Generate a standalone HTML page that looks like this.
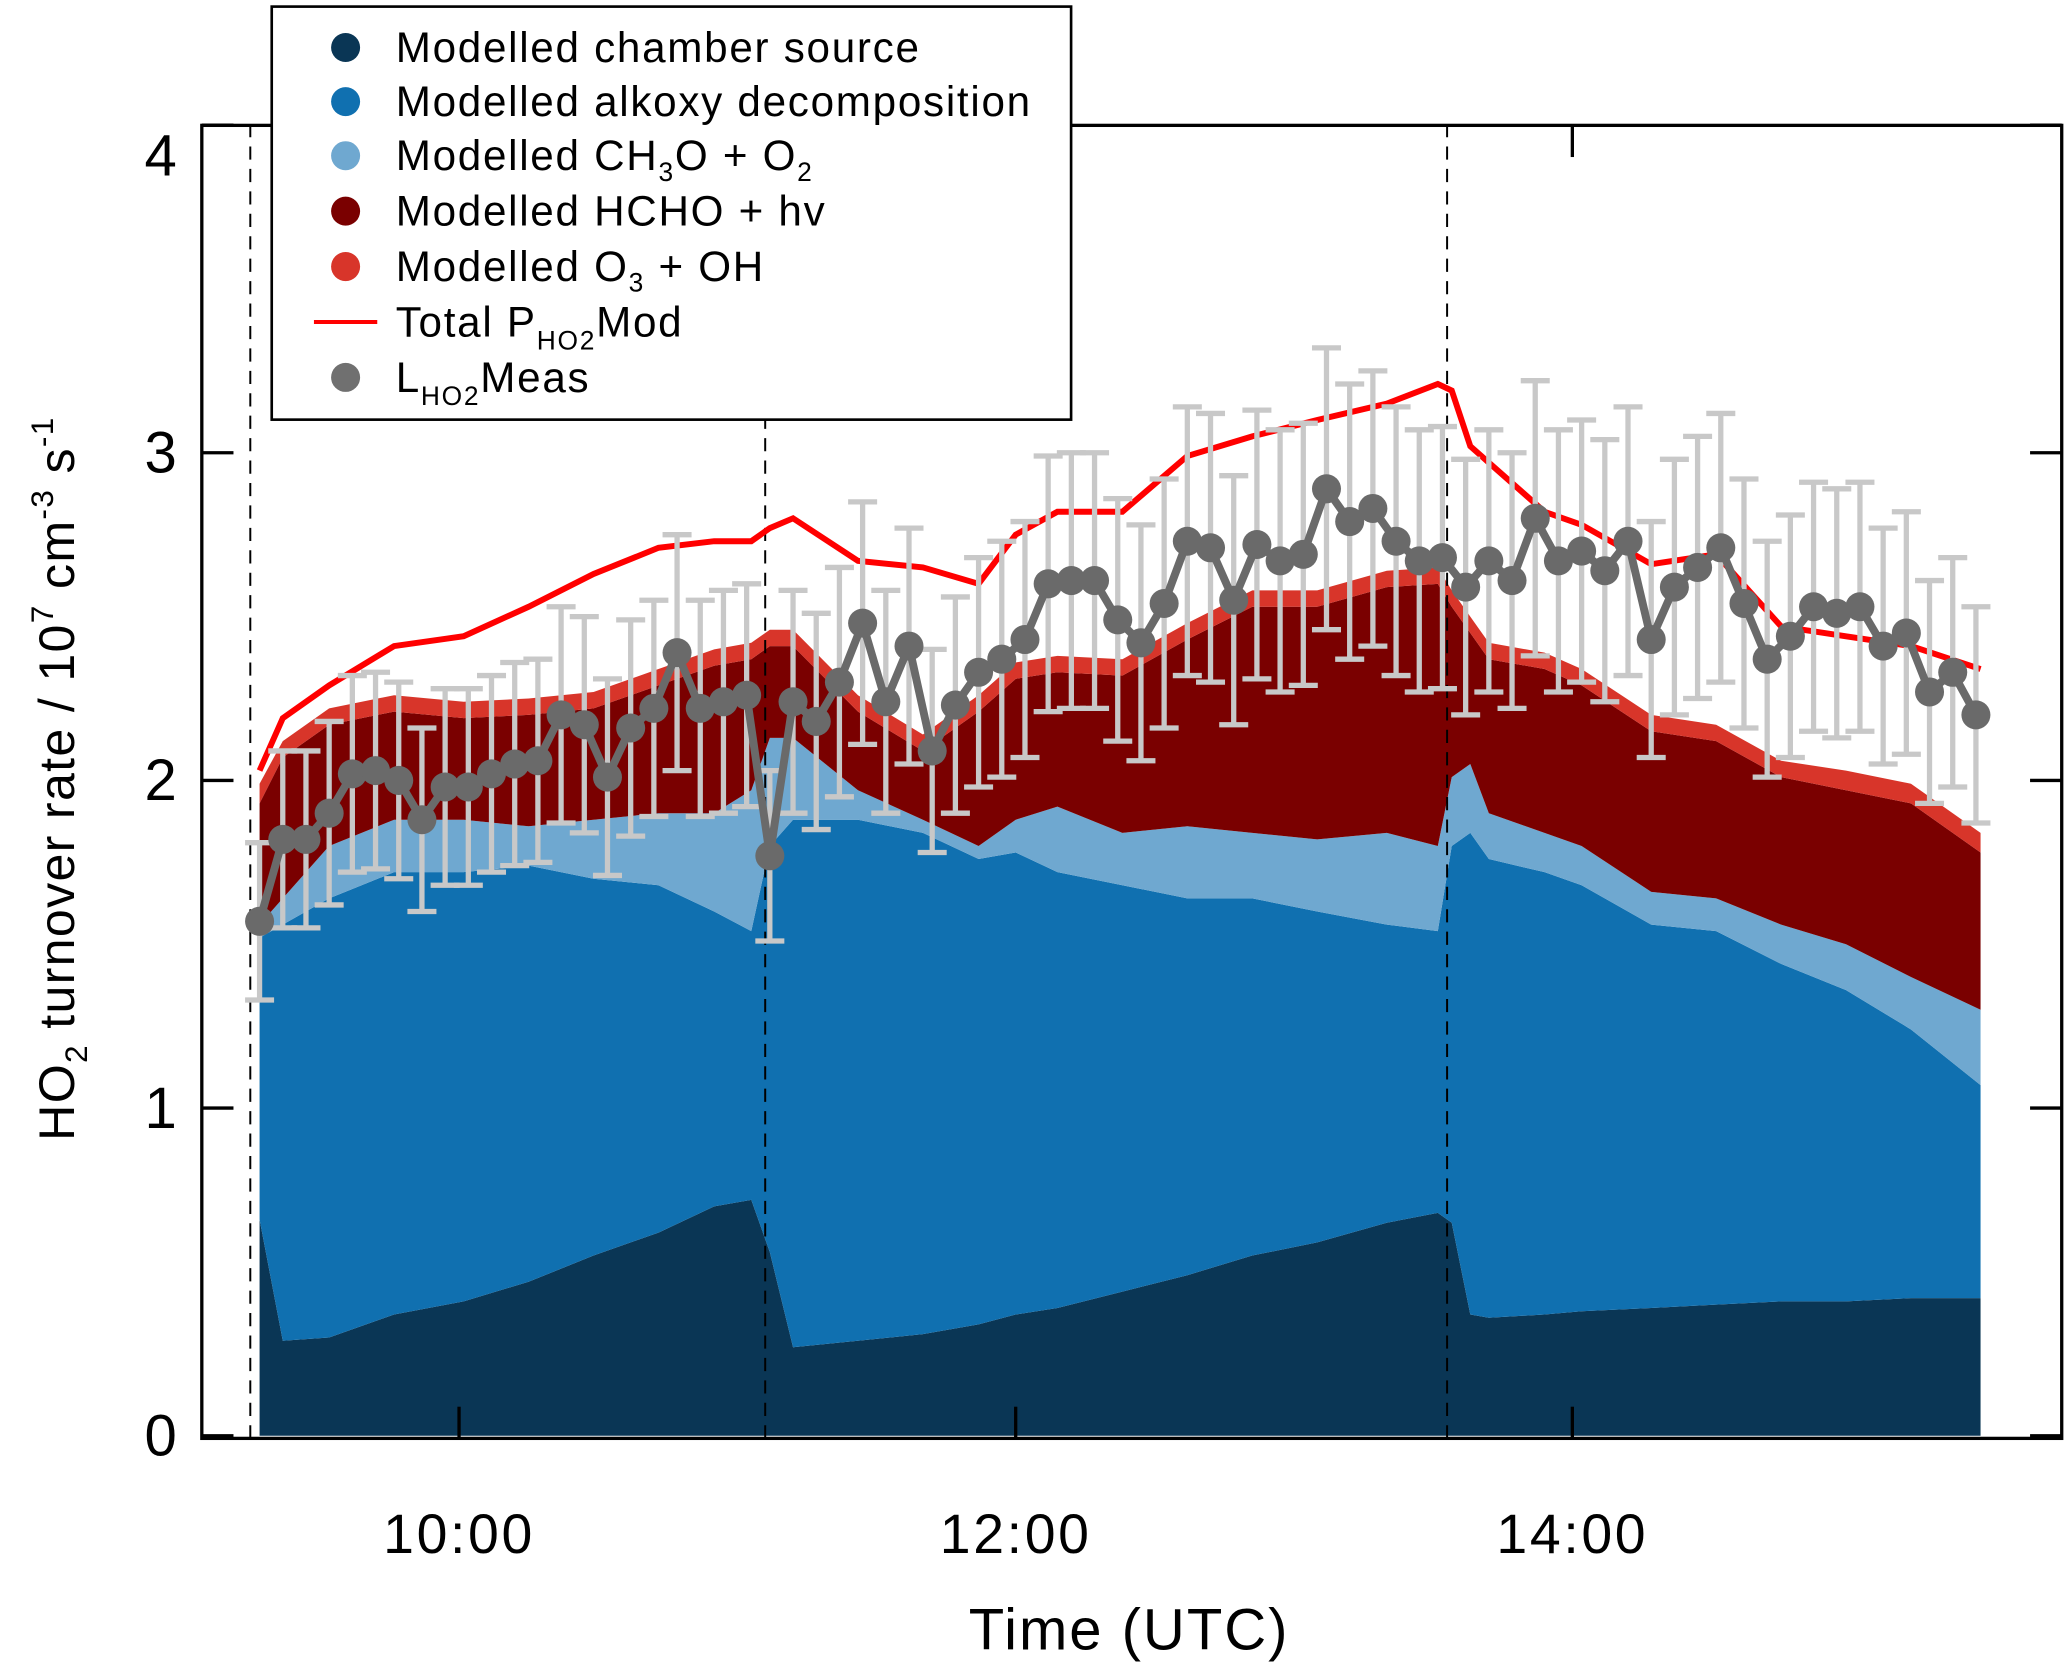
<!DOCTYPE html>
<html><head><meta charset="utf-8"><style>
html,body{margin:0;padding:0;background:#fff;}
svg{display:block;font-family:"Liberation Sans",sans-serif;}
</style></head><body>
<svg id="chart" width="2067" height="1668" viewBox="0 0 1567 1264" preserveAspectRatio="none" xmlns="http://www.w3.org/2000/svg">
<rect width="1567" height="1264" fill="#fff"/>
<g id="plot"></g>
<g id="axes"></g>
<g id="legend" font-size="32" letter-spacing="1.3">
 <rect x="206" y="5" width="606" height="313" fill="#fff" stroke="#000" stroke-width="2"/>
 <g><circle cx="262" cy="36" r="11" fill="#0a3655"/><text x="300" y="47">Modelled chamber source</text></g>
 <g><circle cx="262" cy="77" r="11" fill="#1070b0"/><text x="300" y="88">Modelled alkoxy decomposition</text></g>
 <g><circle cx="262" cy="118" r="11" fill="#6fa8d0"/><text x="300" y="129">Modelled CH<tspan font-size="20" dy="8">3</tspan><tspan dy="-8">O + O</tspan><tspan font-size="20" dy="8">2</tspan></text></g>
 <g><circle cx="262" cy="160" r="11" fill="#7a0000"/><text x="300" y="171">Modelled HCHO + hv</text></g>
 <g><circle cx="262" cy="202" r="11" fill="#d8352a"/><text x="300" y="213">Modelled O<tspan font-size="20" dy="8">3</tspan><tspan dy="-8"> + OH</tspan></text></g>
 <g><line x1="238" y1="244" x2="286" y2="244" stroke="#ff0000" stroke-width="3"/><text x="300" y="255">Total P<tspan font-size="20" dy="10">HO2</tspan><tspan dy="-10">Mod</tspan></text></g>
 <g><circle cx="262" cy="286" r="11" fill="#707070"/><text x="300" y="297">L<tspan font-size="20" dy="10">HO2</tspan><tspan dy="-10">Meas</tspan></text></g>
</g>
<script>
// model time grid (minutes after 09:00)
const modelTimes=[17,22,32,46,61,75,89,103,115,123,127,132,146,160,172,180,189,203,217,231,245,260,271,274,278,282,294,302,317,331,345,359,373,388];
const chamber=[0.66,0.29,0.30,0.37,0.41,0.47,0.55,0.62,0.70,0.72,0.56,0.27,0.29,0.31,0.34,0.37,0.39,0.44,0.49,0.55,0.59,0.65,0.68,0.65,0.37,0.36,0.37,0.38,0.39,0.40,0.41,0.41,0.42,0.42];
const alkoxy=[0.86,1.27,1.34,1.35,1.31,1.27,1.15,1.06,0.90,0.82,1.24,1.61,1.59,1.53,1.42,1.41,1.33,1.24,1.15,1.09,1.01,0.91,0.86,1.15,1.47,1.40,1.35,1.30,1.17,1.14,1.03,0.95,0.82,0.65];
const ch3o=[0.04,0.08,0.16,0.16,0.16,0.12,0.18,0.22,0.30,0.43,0.33,0.25,0.09,0.04,0.04,0.10,0.20,0.16,0.22,0.20,0.22,0.28,0.26,0.21,0.21,0.14,0.12,0.12,0.10,0.10,0.12,0.14,0.16,0.23];
const hcho=[0.37,0.43,0.37,0.33,0.31,0.34,0.34,0.39,0.45,0.40,0.28,0.28,0.24,0.21,0.41,0.43,0.41,0.48,0.57,0.69,0.71,0.75,0.80,0.52,0.40,0.47,0.50,0.49,0.49,0.48,0.45,0.47,0.53,0.48];
const o3oh=[0.06,0.05,0.05,0.05,0.05,0.05,0.05,0.05,0.05,0.05,0.05,0.05,0.05,0.05,0.05,0.05,0.05,0.05,0.05,0.05,0.05,0.05,0.05,0.05,0.05,0.05,0.05,0.05,0.05,0.05,0.05,0.06,0.06,0.06];
const totalP=[2.03,2.19,2.29,2.41,2.44,2.53,2.63,2.71,2.73,2.73,2.77,2.80,2.67,2.65,2.60,2.75,2.82,2.82,2.99,3.05,3.10,3.15,3.21,3.19,3.02,2.97,2.82,2.78,2.66,2.69,2.47,2.44,2.41,2.34];
// measurements (minutes after 09:00)
const measTimes=[17,22,27,32,37,42,47,52,57,62,67,72,77,82,87,92,97,102,107,112,117,122,127,132,137,142,147,152,157,162,167,172,177,182,187,192,197,202,207,212,217,222,227,232,237,242,247,252,257,262,267,272,277,282,287,292,297,302,307,312,317,322,327,332,337,342,347,352,357,362,367,372,377,382,387];
const measVals=[1.57,1.82,1.82,1.90,2.02,2.03,2.00,1.88,1.98,1.98,2.02,2.05,2.06,2.20,2.17,2.01,2.16,2.22,2.39,2.22,2.24,2.26,1.77,2.24,2.18,2.30,2.48,2.24,2.41,2.09,2.23,2.33,2.37,2.43,2.60,2.61,2.61,2.49,2.42,2.54,2.73,2.71,2.55,2.72,2.67,2.69,2.89,2.79,2.83,2.73,2.67,2.68,2.59,2.67,2.61,2.80,2.67,2.70,2.64,2.73,2.43,2.59,2.65,2.71,2.54,2.37,2.44,2.53,2.51,2.53,2.41,2.45,2.27,2.33,2.20];
const measErr=[0.24,0.27,0.27,0.28,0.30,0.30,0.30,0.28,0.30,0.30,0.30,0.31,0.31,0.33,0.33,0.30,0.33,0.33,0.36,0.33,0.34,0.34,0.26,0.34,0.33,0.35,0.37,0.34,0.36,0.31,0.33,0.35,0.36,0.36,0.39,0.39,0.39,0.37,0.36,0.38,0.41,0.41,0.38,0.41,0.40,0.40,0.43,0.42,0.42,0.41,0.40,0.40,0.39,0.40,0.39,0.42,0.40,0.40,0.40,0.41,0.36,0.39,0.40,0.41,0.38,0.36,0.37,0.38,0.38,0.38,0.36,0.37,0.34,0.35,0.33];
const dashedTimes=[15,126,273];
const yTicks=[0,1,2,3,4];
const xTickTimes=[60,180,300];
const xTickLabels=["10:00","12:00","14:00"];

const L=153,R=1563,T=95,B=1090;
const xS=m=>348+(m-60)*211/60;
const yS=v=>1088-248.3*v;
const NS="http://www.w3.org/2000/svg";
const plot=document.getElementById('plot'), axes=document.getElementById('axes');
function mk(tag,attrs,parent){const e=document.createElementNS(NS,tag);for(const k in attrs)e.setAttribute(k,attrs[k]);parent.appendChild(e);return e;}

const layers=[[chamber,'#0a3655','area-chamber-source'],[alkoxy,'#1070b0','area-alkoxy-decomposition'],[ch3o,'#6fa8d0','area-ch3o-o2'],[hcho,'#7a0000','area-hcho-hv'],[o3oh,'#d8352a','area-o3-oh']];
let base=modelTimes.map(()=>0);
layers.forEach(([vals,col,name])=>{
  const top=base.map((b,i)=>b+vals[i]);
  let d='M'+modelTimes.map((t,i)=>xS(t)+','+yS(top[i])).join('L');
  for(let i=modelTimes.length-1;i>=0;i--) d+='L'+xS(modelTimes[i])+','+yS(base[i]);
  d+='Z';
  const p=mk('path',{d:d,fill:col},plot);
  
  
  base=top;
});
dashedTimes.forEach(t=>{
  const l=mk('line',{x1:xS(t),x2:xS(t),y1:B,y2:T,stroke:'#000','stroke-width':1.5,'stroke-dasharray':'10,7'},plot);
  
  
});
const tp=mk('polyline',{points:modelTimes.map((t,i)=>xS(t)+','+yS(totalP[i])).join(' '),fill:'none',stroke:'#ff0000','stroke-width':4.5},plot);


measTimes.forEach((t,i)=>{
  const x=xS(t),y1=yS(measVals[i]+measErr[i]),y2=yS(measVals[i]-measErr[i]);
  const g=mk('g',{stroke:'#c8c8c8','stroke-width':4},plot);
  
  
  mk('line',{x1:x,x2:x,y1:y1,y2:y2},g);
  mk('line',{x1:x-11,x2:x+11,y1:y1,y2:y1},g);
  mk('line',{x1:x-11,x2:x+11,y1:y2,y2:y2},g);
});
const ml=mk('polyline',{points:measTimes.map((t,i)=>xS(t)+','+yS(measVals[i])).join(' '),fill:'none',stroke:'#6a6a6a','stroke-width':6},plot);


measTimes.forEach((t,i)=>{
  const c=mk('circle',{cx:xS(t),cy:yS(measVals[i]),r:11,fill:'#6a6a6a'},plot);
  
  
});
const fr=mk('rect',{x:L,y:T,width:R-L,height:B-T,fill:'none',stroke:'#000','stroke-width':2.5},axes);


yTicks.forEach(v=>{
  const y=yS(v);
  mk('line',{x1:L,x2:L+24,y1:y,y2:y,stroke:'#000','stroke-width':2.5},axes);
  mk('line',{x1:R,x2:R-24,y1:y,y2:y,stroke:'#000','stroke-width':2.5},axes);
  const tx=mk('text',{x:134,y:Math.max(y,118)+15,'font-size':44,'text-anchor':'end'},axes);
  tx.textContent=v;
  
  
});
xTickTimes.forEach((t,i)=>{
  const x=xS(t);
  mk('line',{x1:x,x2:x,y1:B,y2:B-24,stroke:'#000','stroke-width':2.5},axes);
  mk('line',{x1:x,x2:x,y1:T,y2:T+24,stroke:'#000','stroke-width':2.5},axes);
  const tx=mk('text',{x:x,y:1177,'font-size':42,'letter-spacing':2,'text-anchor':'middle'},axes);
  tx.textContent=xTickLabels[i];
  
  
});
const xt=mk('text',{x:856,y:1250,'font-size':44,'letter-spacing':1.5,'text-anchor':'middle'},axes);
xt.textContent='Time (UTC)';


const yt=mk('text',{x:0,y:0,'font-size':38,'letter-spacing':1,'text-anchor':'middle',transform:'translate(56,590) rotate(-90)'},axes);


const parts=[['HO',null,0],['2',24,10],[' turnover rate / 10',null,-10],['7',24,-16],[' cm',null,16],['-3',24,-16],[' s',null,16],['-1',24,-16]];
parts.forEach(([s,fs,dy])=>{
  const ts=mk('tspan',{dy:dy},yt);
  if(fs) ts.setAttribute('font-size',fs);
  ts.textContent=s;
});
</script>
</svg>
</body></html>
